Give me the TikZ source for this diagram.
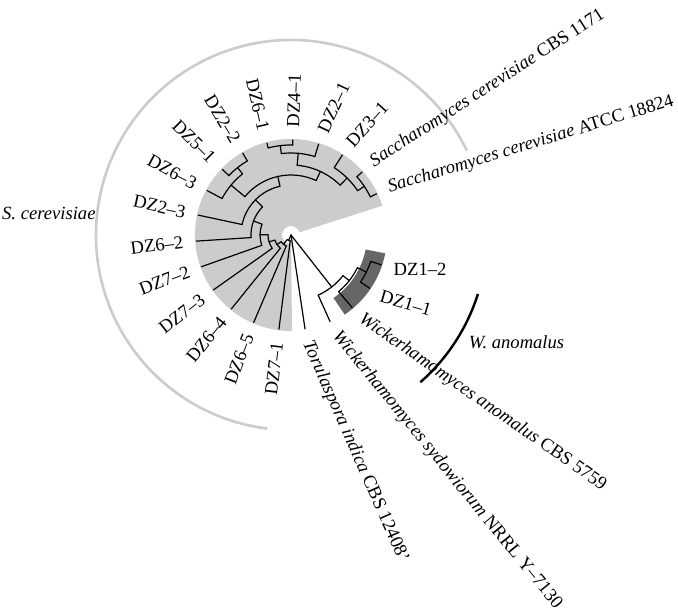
\documentclass[tikz,border=0pt]{standalone}
\usepackage{fontspec}
\setmainfont{Liberation Serif}
\definecolor{wedgegray}{gray}{0.80}
\definecolor{bandgray}{gray}{0.40}
\definecolor{arcgray}{gray}{0.80}
\newcommand\tbarc[3]{\draw[br] (#1:#3pt) arc[start angle=#1,end angle=#2,radius=#3pt];}
\newcommand\tbrad[3]{\draw[br] (#1:#2pt) -- (#1:#3pt);}
\begin{document}
\begin{tikzpicture}[x=1pt,y=1pt,
  br/.style={line width=1.2pt,line cap=round,line join=round},
  lab/.style={font=\fontsize{18.6}{20}\selectfont,inner sep=0pt},
  labR/.style={lab,anchor=west},
  labL/.style={lab,anchor=east}]
\useasboundingbox (-291pt,-381pt) rectangle (387pt,235pt);
\fill[white] (-291pt,-381pt) rectangle (387pt,235pt);
% clade shading
\fill[wedgegray] (17.8:9pt) arc[start angle=17.8,end angle=270.6,radius=9pt]
   -- (270.6:96pt) arc[start angle=270.6,end angle=17.8,radius=96pt] -- cycle;
\fill[bandgray] (304:76pt) arc[start angle=304,end angle=349,radius=76pt]
   -- (349:96pt) arc[start angle=349,end angle=304,radius=96pt] -- cycle;
% root
\coordinate (root) at (0,0);
\tbrad{246.6}{0}{6}
\tbrad{278.5}{0}{95}
\tbrad{308.1}{0}{66}
% G0 (G1,DZ7-1)
\tbarc{230.6}{262.7}{6}
\tbrad{230.6}{6}{12}
\tbrad{262.7}{6}{95}
% G1 (G2,DZ6-5)
\tbarc{214.25}{246.9}{12}
\tbrad{214.25}{12}{17}
\tbrad{246.9}{12}{95}
% G2 (G3,DZ6-4)
\tbarc{197.4}{231.1}{17}
\tbrad{197.4}{17}{23}
\tbrad{231.1}{17}{95}
% G3 (G4,DZ7-3)
\tbarc{179.5}{215.3}{23}
\tbrad{179.5}{23}{31}
\tbrad{215.3}{23}{95}
% G4 (G5,DZ7-2)
\tbarc{159.5}{199.5}{31}
\tbrad{159.5}{31}{40}
\tbrad{199.5}{31}{95}
% G5 (G6,DZ6-2)
\tbarc{135.3125}{183.7}{40}
\tbrad{135.3125}{40}{50}
\tbrad{183.7}{40}{95}
% G6 (E1,DZ2-3)
\tbarc{102.725}{167.9}{50}
\tbrad{102.725}{50}{60}
\tbrad{167.9}{50}{95}
% E1 (C1,D2)
\tbarc{65.2}{140.25}{60}
\tbrad{65.2}{60}{70}
\tbrad{140.25}{60}{78}
% D2 (D1,DZ6-3)
\tbarc{128.4}{152.1}{78}
\tbrad{128.4}{78}{86}
\tbrad{152.1}{78}{95}
% D1 (DZ2-2,DZ5-1)
\tbarc{120.5}{136.3}{86}
\tbrad{120.5}{86}{95}
\tbrad{136.3}{86}{95}
% C1 (A2,B2)
\tbarc{45.45}{84.95}{70}
\tbrad{45.45}{70}{80}
\tbrad{84.95}{70}{82}
% B2 (DZ2-1,B1)
\tbarc{73.1}{96.8}{82}
\tbrad{73.1}{82}{95}
\tbrad{96.8}{82}{90}
% B1 (DZ4-1,DZ6-1)
\tbarc{88.9}{104.7}{90}
\tbrad{88.9}{90}{95}
\tbrad{104.7}{90}{95}
% A2 (A1,DZ3-1)
\tbarc{33.6}{57.3}{80}
\tbrad{33.6}{80}{88}
\tbrad{57.3}{80}{95}
% A1 (ATCC,CBS)
\tbarc{25.7}{41.5}{88}
\tbrad{25.7}{88}{95}
\tbrad{41.5}{88}{95}
% W (Wsyd, A)
\tbarc{294.3}{321.95}{66}
\tbrad{294.3}{66}{95}
\tbrad{321.95}{66}{74}
% A (Wan, B)
\tbarc{310.1}{333.8}{74}
\tbrad{310.1}{74}{95}
\tbrad{333.8}{74}{84}
% B (DZ1-1, DZ1-2)
\tbarc{325.9}{341.7}{84}
\tbrad{325.9}{84}{95}
\tbrad{341.7}{84}{95}
% clade arcs
\draw[arcgray,line width=2.6pt] (25.6:195pt) arc[start angle=25.6,end angle=263,radius=195pt];
\draw[black,line width=2.4pt] (311.3:196pt) arc[start angle=311.3,end angle=342.5,radius=196pt];
% tip labels
\node[labR,rotate=17] (l0) at (25.7:108pt) {\textit{Saccharomyces cerevisiae} ATCC 18824};
\node[labR,rotate=33] (l1) at (41.5:108pt) {\textit{Saccharomyces cerevisiae} CBS 1171};
\node[labR,rotate=48] (l2) at (57.3:108pt) {DZ3–1};
\node[labR,rotate=65] (l3) at (73.1:108pt) {DZ2–1};
\node[labR,rotate=88] (l4) at (88.9:108pt) {DZ4–1};
\node[labL,rotate=-77] (l5) at (104.7:108pt) {DZ6–1};
\node[labL,rotate=-59] (l6) at (120.5:108pt) {DZ2–2};
\node[labL,rotate=-45] (l7) at (136.3:108pt) {DZ5–1};
\node[labL,rotate=-28.5] (l8) at (152.1:108pt) {DZ6–3};
\node[labL,rotate=-12.5] (l9) at (167.9:108pt) {DZ2–3};
\node[labL,rotate=7] (l10) at (183.7:108pt) {DZ6–2};
\node[labL,rotate=21] (l11) at (199.5:108pt) {DZ7–2};
\node[labL,rotate=38] (l12) at (215.3:108pt) {DZ7–3};
\node[labL,rotate=51] (l13) at (231.1:108pt) {DZ6–4};
\node[labL,rotate=69] (l14) at (246.9:108pt) {DZ6–5};
\node[labL,rotate=83] (l15) at (262.7:108pt) {DZ7–1};
\node[labR,rotate=-66.3] (l16) at (278.5:108pt) {\textit{Torulaspora indica} CBS 12408'};
\node[labR,rotate=-50.8] (l17) at (294.3:108pt) {\textit{Wickerhamomyces sydowiorum} NRRL Y–7130};
\node[labR,rotate=-34.8] (l18) at (310.1:108pt) {\textit{Wickerhamomyces anomalus} CBS 5759};
\node[labR,rotate=-16.5] (l19) at (325.9:108pt) {DZ1–1};
\node[labR,rotate=0] (l20) at (341.7:108pt) {DZ1–2};
% clade labels
\node[lab,anchor=west] (sc) at (-289pt,22pt) {\textit{S. cerevisiae}};
\node[lab] (wa) at (225.5pt,-107pt) {\textit{W. anomalus}};
\end{tikzpicture}
\end{document}
